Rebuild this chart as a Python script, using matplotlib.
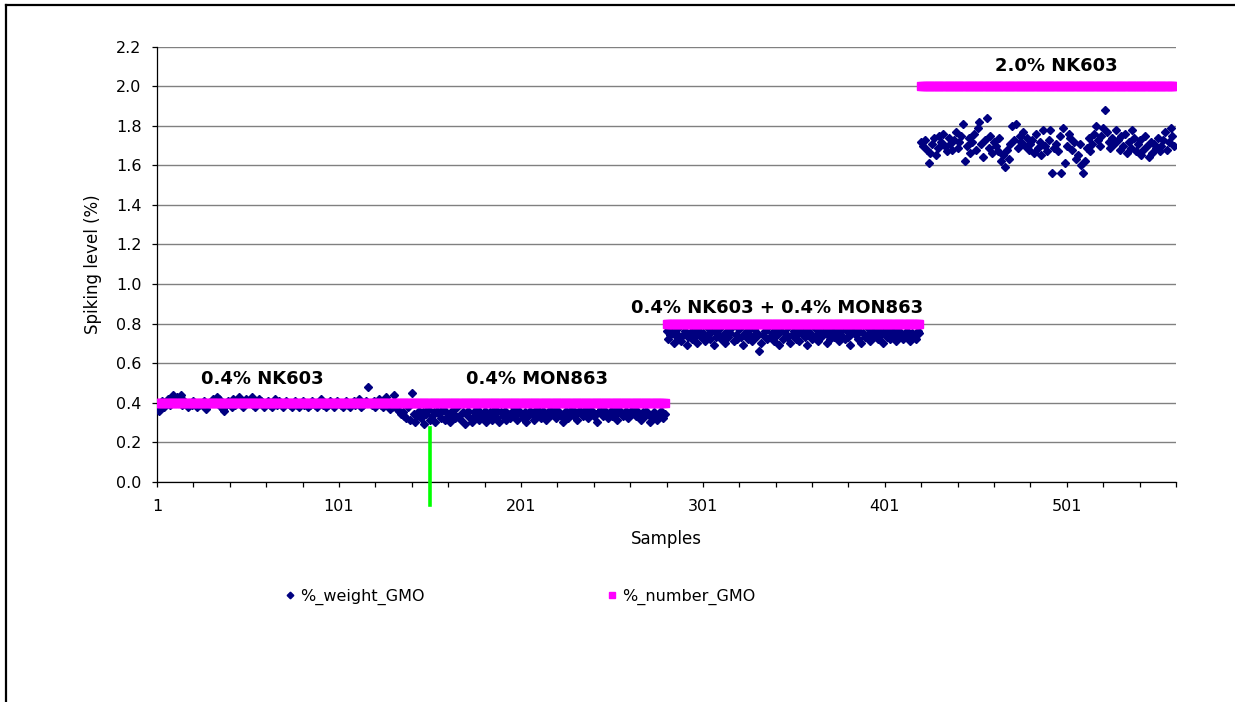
import matplotlib
matplotlib.use("Agg")
import matplotlib.pyplot as plt
from matplotlib.lines import Line2D
from matplotlib.ticker import FixedLocator, FormatStrFormatter
import numpy as np

# --------------------------------------------------------------------
# DATA
# --------------------------------------------------------------------
# %_weight_GMO, 0.4% NK603 block (samples 1-135)
weight_nk603 = [
    0.39, 0.36, 0.40, 0.41, 0.38, 0.40, 0.42, 0.39, 0.41, 0.44,
    0.40, 0.43, 0.42, 0.44, 0.39, 0.41, 0.40, 0.38, 0.40, 0.39,
    0.41, 0.40, 0.38, 0.39, 0.40, 0.39, 0.41, 0.37, 0.39, 0.40,
    0.41, 0.42, 0.40, 0.43, 0.42, 0.38, 0.37, 0.36, 0.39, 0.41,
    0.40, 0.38, 0.42, 0.39, 0.41, 0.43, 0.40, 0.38, 0.39, 0.42,
    0.40, 0.41, 0.43, 0.39, 0.38, 0.40, 0.42, 0.41, 0.39, 0.38,
    0.40, 0.41, 0.39, 0.38, 0.40, 0.42, 0.39, 0.41, 0.40, 0.38,
    0.39, 0.41, 0.40, 0.39, 0.38, 0.40, 0.41, 0.39, 0.38, 0.40,
    0.41, 0.39, 0.40, 0.38, 0.39, 0.41, 0.40, 0.39, 0.38, 0.40,
    0.42, 0.39, 0.40, 0.38, 0.39, 0.41, 0.40, 0.38, 0.39, 0.41,
    0.40, 0.39, 0.38, 0.40, 0.41, 0.39, 0.38, 0.40, 0.41, 0.39,
    0.40, 0.42, 0.38, 0.39, 0.40, 0.41, 0.48, 0.40, 0.39, 0.41,
    0.38, 0.40, 0.42, 0.39, 0.38, 0.40, 0.43, 0.39, 0.37, 0.38,
    0.44, 0.40, 0.37, 0.36, 0.34,
]
# 0.4% MON863 block (samples 136-280)
weight_mon863 = [
    0.35, 0.33, 0.32, 0.38, 0.31, 0.45, 0.34, 0.30, 0.33, 0.36,
    0.32, 0.35, 0.29, 0.34, 0.37, 0.31, 0.33, 0.35, 0.30, 0.36,
    0.34, 0.32, 0.37, 0.31, 0.35, 0.33, 0.30, 0.36, 0.34, 0.32,
    0.38, 0.33, 0.31, 0.35, 0.29, 0.34, 0.36, 0.32, 0.30, 0.35,
    0.33, 0.37, 0.31, 0.34, 0.32, 0.36, 0.30, 0.33, 0.35, 0.31,
    0.34, 0.37, 0.32, 0.30, 0.35, 0.33, 0.36, 0.31, 0.34, 0.32,
    0.35, 0.38, 0.33, 0.31, 0.36, 0.34, 0.32, 0.35, 0.30, 0.33,
    0.36, 0.34, 0.31, 0.35, 0.37, 0.33, 0.32, 0.36, 0.34, 0.31,
    0.35, 0.33, 0.37, 0.34, 0.32, 0.36, 0.35, 0.33, 0.30, 0.34,
    0.36, 0.32, 0.35, 0.37, 0.33, 0.34, 0.31, 0.36, 0.35, 0.33,
    0.34, 0.37, 0.32, 0.35, 0.36, 0.33, 0.34, 0.30, 0.35, 0.37,
    0.33, 0.36, 0.34, 0.32, 0.35, 0.33, 0.37, 0.34, 0.31, 0.36,
    0.35, 0.33, 0.34, 0.36, 0.32, 0.35, 0.34, 0.37, 0.33, 0.36,
    0.34, 0.31, 0.35, 0.33, 0.36, 0.34, 0.30, 0.32, 0.35, 0.33,
    0.31, 0.34, 0.36, 0.32, 0.34,
]
# 0.4% NK603 + 0.4% MON863 block (samples 281-420)
weight_mix = [
    0.76, 0.72, 0.74, 0.77, 0.70, 0.75, 0.73, 0.78, 0.71, 0.74,
    0.76, 0.69, 0.73, 0.75, 0.72, 0.77, 0.74, 0.70, 0.76, 0.73,
    0.75, 0.71, 0.78, 0.74, 0.72, 0.76, 0.69, 0.73, 0.75, 0.77,
    0.72, 0.74, 0.70, 0.76, 0.73, 0.75, 0.78, 0.71, 0.74, 0.72,
    0.77, 0.73, 0.69, 0.75, 0.76, 0.72, 0.74, 0.71, 0.77, 0.73,
    0.75, 0.66, 0.70, 0.74, 0.76, 0.72, 0.78, 0.73, 0.75, 0.71,
    0.77, 0.74, 0.69, 0.76, 0.72, 0.75, 0.73, 0.78, 0.70, 0.74,
    0.76, 0.72, 0.75, 0.71, 0.77, 0.74, 0.73, 0.69, 0.76, 0.75,
    0.72, 0.78, 0.74, 0.71, 0.76, 0.73, 0.75, 0.77, 0.70, 0.74,
    0.72, 0.76, 0.73, 0.78, 0.75, 0.71, 0.74, 0.77, 0.72, 0.76,
    0.73, 0.69, 0.75, 0.77, 0.74, 0.72, 0.76, 0.70, 0.75, 0.73,
    0.78, 0.74, 0.71, 0.76, 0.73, 0.75, 0.72, 0.77, 0.74, 0.70,
    0.76, 0.73, 0.75, 0.72, 0.77, 0.74, 0.71, 0.76, 0.73, 0.75,
    0.72, 0.74, 0.76, 0.73, 0.71, 0.75, 0.74, 0.72, 0.76, 0.75,
]
# 2.0% NK603 block (samples 421-560)
weight_nk603_2 = [
    1.72, 1.70, 1.73, 1.68, 1.61, 1.66, 1.71, 1.74, 1.65, 1.69,
    1.75, 1.72, 1.76, 1.70, 1.67, 1.74, 1.71, 1.68, 1.73, 1.77,
    1.69, 1.72, 1.75, 1.81, 1.62, 1.70, 1.74, 1.66, 1.72, 1.76,
    1.68, 1.79, 1.82, 1.71, 1.64, 1.73, 1.84, 1.69, 1.75, 1.66,
    1.72, 1.70, 1.67, 1.74, 1.62, 1.65, 1.59, 1.68, 1.63, 1.71,
    1.80, 1.73, 1.81, 1.69, 1.75, 1.72, 1.77, 1.70, 1.74, 1.68,
    1.71, 1.73, 1.66, 1.76, 1.69, 1.72, 1.65, 1.78, 1.70, 1.67,
    1.73, 1.78, 1.56, 1.69, 1.71, 1.67, 1.75, 1.56, 1.79, 1.61,
    1.70, 1.76, 1.74, 1.68, 1.72, 1.63, 1.65, 1.71, 1.60, 1.56,
    1.62, 1.69, 1.74, 1.67, 1.71, 1.76, 1.80, 1.73, 1.70, 1.75,
    1.79, 1.88, 1.77, 1.72, 1.69, 1.74, 1.71, 1.78, 1.73, 1.68,
    1.75, 1.70, 1.76, 1.66, 1.72, 1.69, 1.78, 1.74, 1.67, 1.71,
    1.73, 1.65, 1.68, 1.75, 1.70, 1.64, 1.72, 1.66, 1.71, 1.69,
    1.74, 1.67, 1.70, 1.73, 1.77, 1.68, 1.72, 1.79, 1.75, 1.70,
]

# %_number_GMO: nominal spiking level and number of samples per block
number_levels = [0.4, 0.8, 2.0]
number_counts = [280, 140, 140]

# block labels
block_labels = ["0.4% NK603", "0.4% MON863", "0.4% NK603 + 0.4% MON863", "2.0% NK603"]
label_x = [59, 210, 342, 495]
label_y = [0.52, 0.52, 0.88, 2.10]

# green marker line
green_x = 151
green_y = [0.27, -0.12]

weight_gmo = np.array(weight_nk603 + weight_mon863 + weight_mix + weight_nk603_2)
number_gmo = np.repeat(number_levels, number_counts)
samples = np.arange(1, len(weight_gmo) + 1)

# --------------------------------------------------------------------
# Create the figure
# --------------------------------------------------------------------
W, H = 1235, 702
fig = plt.figure(figsize=(W / 100, H / 100), dpi=100)
ax = fig.add_axes([157 / W, 1 - 481.7 / H, (1176 - 157) / W, (481.7 - 46.7) / H])

navy = "#000080"
pink = "#FF00FF"

ax.plot(samples, weight_gmo, linestyle="none", marker="D", ms=4.2,
        color=navy, mec=navy, label="%_weight_GMO", zorder=3)
ax.plot(samples, number_gmo, linestyle="none", marker="s", ms=5.2,
        color=pink, mec=pink, label="%_number_GMO", zorder=4)

# green line
ax.plot([green_x, green_x], green_y, color="#00FF00", lw=2.6, clip_on=False, zorder=5)

# block labels
for txt, x, y in zip(block_labels, label_x, label_y):
    ax.text(x, y, txt, ha="center", va="center", fontsize=13, fontweight="bold")

# --------------------------------------------------------------------
# Axes
# --------------------------------------------------------------------
ax.set_xlim(1, 561)
ax.set_ylim(0, 2.2)
ax.xaxis.set_major_locator(FixedLocator(np.arange(1, 502, 100)))
ax.xaxis.set_minor_locator(FixedLocator(np.arange(1, 562, 20)))
ax.yaxis.set_major_locator(FixedLocator(np.arange(0, 2.21, 0.2)))
ax.yaxis.set_major_formatter(FormatStrFormatter("%.1f"))

ax.tick_params(axis="both", which="both", direction="out", length=3.6, width=0.9,
               color="black", labelsize=11.5)
ax.tick_params(axis="x", which="major", pad=9)
ax.tick_params(axis="y", which="major", pad=7.5)

ax.grid(axis="y", color="#808080", lw=1.0)
ax.set_axisbelow(True)
for s in ["top", "right"]:
    ax.spines[s].set_visible(False)
for s in ["left", "bottom"]:
    ax.spines[s].set_linewidth(0.9)
    ax.spines[s].set_color("black")

ax.set_xlabel("Samples", fontsize=12)
ax.set_ylabel("Spiking level (%)", fontsize=12)
ax.xaxis.set_label_coords(0.5, -0.112)
ax.yaxis.set_label_coords(-0.054, 0.5)

# --------------------------------------------------------------------
# Legend
# --------------------------------------------------------------------
leg = fig.legend(loc="center left", bbox_to_anchor=(274 / W, 1 - 597 / H),
                 ncol=2, frameon=False, fontsize=11.5, borderpad=0,
                 handlelength=1.0, handletextpad=0.15, columnspacing=11.2,
                 markerscale=0.8)

# --------------------------------------------------------------------
# Chart border (only left and top visible)
# --------------------------------------------------------------------
fig.add_artist(Line2D([6 / W, 6 / W], [0, 1 - 5 / H], color="black", lw=1.6))
fig.add_artist(Line2D([6 / W, 1], [1 - 5 / H, 1 - 5 / H], color="black", lw=1.6))

plt.savefig("out.png", dpi=100)
plt.close()
